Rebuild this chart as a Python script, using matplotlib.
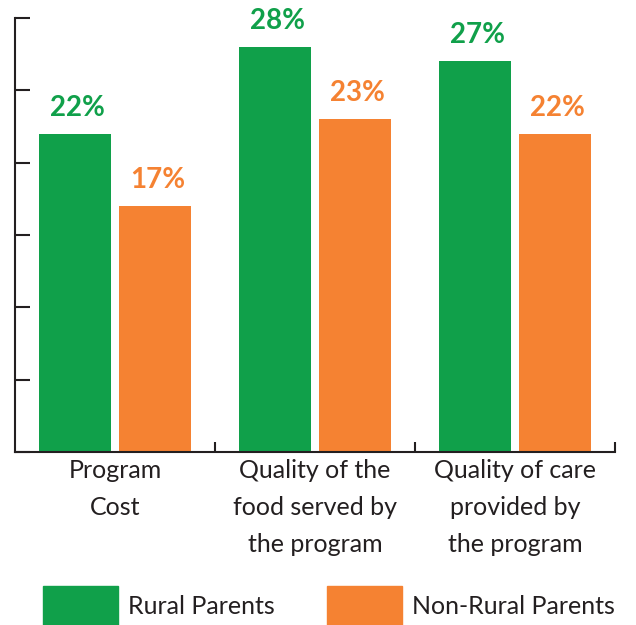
import numpy as np
import matplotlib
matplotlib.use("Agg")
import matplotlib.pyplot as plt
from matplotlib.patches import Patch

# data
categories = ["Program\nCost", "Quality of the\nfood served by\nthe program",
              "Quality of care\nprovided by\nthe program"]
rural = [22, 28, 27]
non_rural = [17, 23, 22]
series_names = ["Rural Parents", "Non-Rural Parents"]

green = "#10a04a"
orange = "#f58232"
dark = "#231f20"

plt.rcParams["font.family"] = ["Lato", "DejaVu Sans"]

fig = plt.figure(figsize=(6.36, 6.25), dpi=100)
ax = fig.add_axes([15 / 636, 1 - 452 / 625, 600 / 636, 434 / 625])

x = np.arange(len(categories))
w = 0.36
b1 = ax.bar(x - 0.2, rural, w, color=green)
b2 = ax.bar(x + 0.2, non_rural, w, color=orange)

for bars, col in [(b1, green), (b2, orange)]:
    for r in bars:
        ax.annotate(f"{r.get_height():.0f}%", (r.get_x() + r.get_width() / 2, r.get_height()),
                    xytext=(2, 13), textcoords="offset points", ha="center", va="baseline",
                    fontsize=20, fontweight="bold", color=col)

ax.set_xlim(-0.5, 2.5)
ax.set_ylim(0, 30)
ax.set_yticks(np.arange(0, 31, 5))
ax.set_yticklabels([])
ax.tick_params(axis="y", direction="in", length=11, width=1.5, color=dark)

ax.set_xticks(x)
ax.set_xticklabels(categories, fontsize=18, color=dark, linespacing=1.75)
ax.tick_params(axis="x", which="major", length=0, pad=5)
ax.set_xticks([0.5, 1.5, 2.5], minor=True)
ax.tick_params(axis="x", which="minor", direction="in", length=7, width=1.5, color=dark)

for s in ["top", "right"]:
    ax.spines[s].set_visible(False)
for s in ["left", "bottom"]:
    ax.spines[s].set_linewidth(1.5)
    ax.spines[s].set_color(dark)

handles = [Patch(color=green), Patch(color=orange)]
fig.legend(handles, series_names, loc="center left", bbox_to_anchor=(43 / 636, 1 - 606 / 625),
           ncol=2, frameon=False, fontsize=18, handlelength=3.0, handleheight=2.1,
           handletextpad=0.4, columnspacing=2.1, borderpad=0, borderaxespad=0,
           labelcolor=dark)

fig.savefig("out.png", dpi=100)
